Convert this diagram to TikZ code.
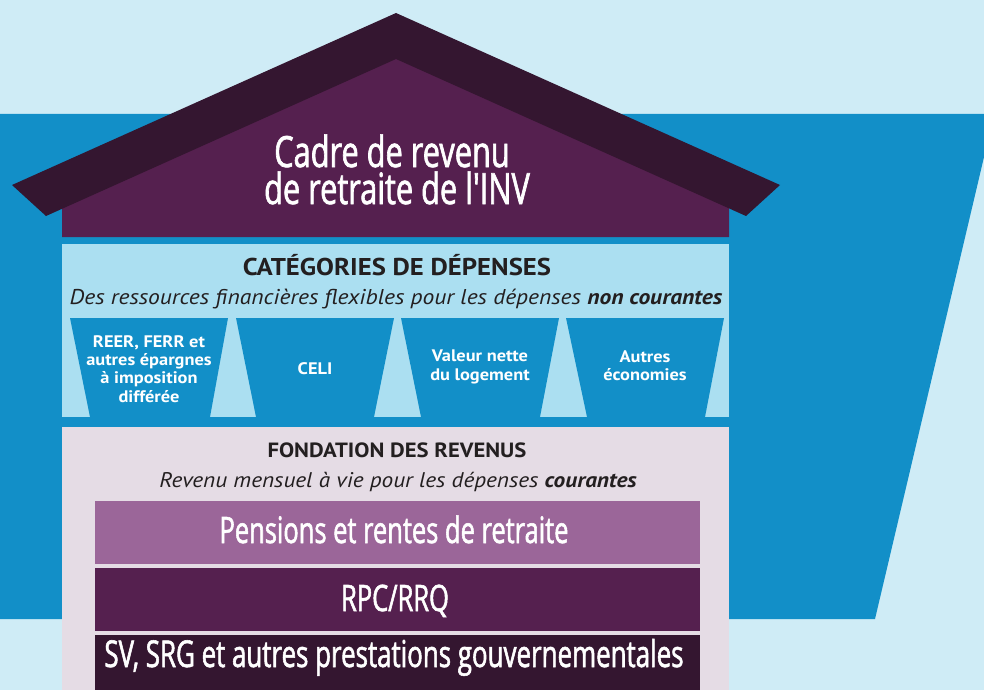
\documentclass[tikz,border=0pt]{standalone}
\usepackage{fontspec}
\setmainfont{PT Sans}[FakeStretch=1.1]
\newfontfamily\titlefont[FakeStretch=0.715,FakeBold=1.5]{Open Sans}
\newfontfamily\barfont[FakeStretch=0.70,FakeBold=1.5]{Open Sans}
\definecolor{bgl}{HTML}{CFECF6}
\definecolor{bandblue}{HTML}{128FC8}
\definecolor{roofdark}{HTML}{341630}
\definecolor{housepurple}{HTML}{55204F}
\definecolor{catblue}{HTML}{ABDFF1}
\definecolor{foundgray}{HTML}{E5DCE5}
\definecolor{mauve}{HTML}{9B6699}
\definecolor{inkdark}{HTML}{231F20}
\begin{document}
\begin{tikzpicture}[x=1pt,y=-1pt,
  titletext/.style={font=\titlefont\fontsize{43}{43}\selectfont, text=white, inner sep=0pt, anchor=base},
  bartext/.style={font=\barfont\fontsize{#1}{#1}\selectfont, text=white, inner sep=0pt, anchor=base},
  headtext/.style={font=\bfseries\fontsize{#1}{#1}\selectfont, text=inkdark, inner sep=0pt, anchor=base},
  subtext/.style={font=\itshape\fontsize{#1}{#1}\selectfont, text=inkdark, inner sep=0pt, anchor=base},
  traptext/.style={font=\bfseries\fontsize{16.7}{18.2}\selectfont, text=white, align=center, inner sep=0pt},
  trapfill/.style={fill=bandblue}
]
\useasboundingbox (0,0) rectangle (984,690);
% background
\fill[bgl] (0,0) rectangle (984,690);
% blue band
\fill[bandblue] (0,114) -- (984,114) -- (984,157) -- (875,619) -- (0,619) -- cycle;
% house body
\fill[housepurple] (62,237) -- (62,200) -- (396,50) -- (729,200) -- (729,237) -- cycle;
% roof
\fill[roofdark] (396,13) -- (780,185) -- (746,216) -- (396,59) -- (46,216) -- (12,185) -- cycle;
\node[titletext] (titleA) at (392,167) {Cadre de revenu};
\node[titletext] (titleB) at (397,204) {de retraite de l'INV};
% categories box
\fill[catblue] (62,244) rectangle (729,417);
\node[headtext=24.3] (cathead) at (397,275) {CATÉGORIES DE DÉPENSES};
\node[subtext=21.4] (catsub) at (396,304) {Des ressources financières flexibles pour les dépenses \textbf{non courantes}};
% trapezoids
\fill[trapfill] (70,318) -- (228,318) -- (210,417) -- (90,417) -- cycle;
\fill[trapfill] (236,318) -- (394,318) -- (374,417) -- (256,417) -- cycle;
\fill[trapfill] (401,318) -- (559,318) -- (540,417) -- (421,417) -- cycle;
\fill[trapfill] (566,318) -- (724,318) -- (705,417) -- (587,417) -- cycle;
\node[traptext] (reer) at (149,369) {REER, FERR et\\autres épargnes\\à imposition\\différée};
\node[traptext] (celi) at (315,369) {CELI};
\node[traptext] (valeur) at (480,367) {Valeur nette\\du logement};
\node[traptext] (autres) at (645,366) {Autres\\économies};
% foundation box
\fill[foundgray] (62,427) rectangle (729,690);
\node[headtext=20.6] (foundhead) at (397,457) {FONDATION DES REVENUS};
\node[subtext=21.2] (foundsub) at (398,487) {Revenu mensuel à vie pour les dépenses \textbf{courantes}};
% bars
\fill[mauve] (95,501) rectangle (700,564);
\fill[housepurple] (95,568) rectangle (700,631);
\fill[roofdark] (95,635) rectangle (700,690);
\node[bartext=36.4] (pensions) at (394,543) {Pensions et rentes de retraite};
\node[bartext=36.4] (rpc) at (395,611) {RPC/RRQ};
\node[bartext=37] (sv) at (394,667) {SV, SRG et autres prestations gouvernementales};
\end{tikzpicture}
\end{document}
